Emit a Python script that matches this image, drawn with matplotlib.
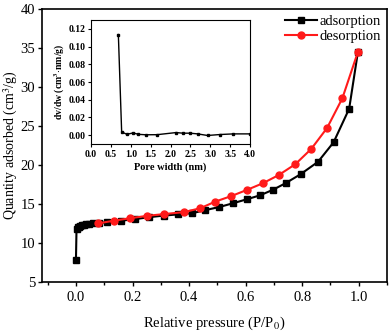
import matplotlib
matplotlib.use('Agg')
import matplotlib.pyplot as plt
from matplotlib.ticker import MultipleLocator

plt.rcParams['font.family'] = ['Liberation Serif', 'DejaVu Serif']
plt.rcParams['mathtext.fontset'] = 'stix'

# isotherm data
ads_x = [0.0, 0.002, 0.006, 0.01, 0.015, 0.02, 0.027, 0.035, 0.045, 0.06, 0.08,
         0.11, 0.16, 0.21, 0.26, 0.31, 0.36, 0.41, 0.457, 0.507, 0.557, 0.605,
         0.651, 0.696, 0.741, 0.794, 0.856, 0.911, 0.966, 0.997]
ads_y = [7.8, 11.8, 12.0, 12.1, 12.2, 12.3, 12.35, 12.4, 12.45, 12.5, 12.55,
         12.65, 12.85, 13.05, 13.3, 13.5, 13.65, 13.8, 14.2, 14.6, 15.1, 15.6,
         16.1, 16.8, 17.65, 18.8, 20.4, 22.9, 27.2, 34.5]

des_x = [0.997, 0.942, 0.888, 0.832, 0.776, 0.717, 0.661, 0.605, 0.549, 0.493,
         0.44, 0.383, 0.313, 0.25, 0.192, 0.136, 0.079]
des_y = [34.5, 28.55, 24.74, 22.05, 20.1, 18.7, 17.65, 16.8, 16.0, 15.3,
         14.45, 13.95, 13.7, 13.46, 13.17, 12.86, 12.5]

# pore size distribution (inset)
pore_w = [0.687, 0.77, 0.9, 1.06, 1.19, 1.38, 1.66, 2.14, 2.31, 2.49, 2.68,
          2.93, 3.25, 3.58, 4.0]
dvdw = [0.1135, 0.0038, 0.001, 0.0026, 0.001, 0.0005, 0.0006, 0.003, 0.0023,
        0.0023, 0.0015, -0.0003, 0.0008, 0.0015, 0.0015]

fig = plt.figure(figsize=(3.89, 3.32), dpi=100)
ax = fig.add_axes([0.108, 0.151, 0.887, 0.822])

ax.plot(ads_x, ads_y, color='black', marker='s', markersize=4.5, linewidth=1.5,
        label='adsorption')
ax.plot(des_x, des_y, color='#ff1a1a', marker='o', markersize=5, linewidth=1.5,
        label='desorption')

ax.set_xlim(-0.12, 1.10)
ax.set_ylim(5, 40)
ax.xaxis.set_major_locator(MultipleLocator(0.2))
ax.xaxis.set_minor_locator(MultipleLocator(0.1))
ax.yaxis.set_major_locator(MultipleLocator(5))
ax.xaxis.set_major_formatter(plt.FuncFormatter(lambda v, p: f'{v:.1f}'))
ax.tick_params(direction='out', labelsize=10.5, length=3, width=1)
ax.tick_params(axis='y', pad=2)
ax.tick_params(which='minor', direction='out', length=2, width=1)
for s in ax.spines.values():
    s.set_linewidth(1.2)
ax.set_xlabel('Relative pressure (P/P$_0$)', fontsize=10.5, labelpad=8)
ax.set_ylabel('Quantity adsorbed (cm$^3$/g)', fontsize=10)
ax.yaxis.set_label_coords(-0.064, 0.5)
ax.legend(loc='upper right', frameon=False, fontsize=10.5, handlelength=2.2,
          handletextpad=0.2, borderaxespad=0.0, labelspacing=0.15,
          bbox_to_anchor=(1.0, 1.0))

ins = fig.add_axes([0.234, 0.566, 0.409, 0.374])
ins.plot(pore_w, dvdw, color='black', marker='s', markersize=2, linewidth=1)
ins.set_xlim(0, 4.0)
ins.set_ylim(-0.01, 0.13)
ins.xaxis.set_major_locator(MultipleLocator(0.5))
ins.yaxis.set_major_locator(MultipleLocator(0.02))
ins.xaxis.set_major_formatter(plt.FuncFormatter(lambda v, p: f'{v:.1f}'))
ins.yaxis.set_major_formatter(plt.FuncFormatter(lambda v, p: f'{v:.2f}'))
ins.tick_params(direction='out', labelsize=7, length=2, width=0.8, pad=2)
for lab in ins.get_xticklabels() + ins.get_yticklabels():
    lab.set_fontweight('bold')
ins.set_xlabel('Pore width (nm)', fontsize=7.5, fontweight='bold', labelpad=3)
ins.set_ylabel('dv/dw (cm$^\\mathbf{3}$$\\cdot$nm/g)', fontsize=7,
               fontweight='bold', labelpad=1)

fig.savefig('out.png', dpi=100)
